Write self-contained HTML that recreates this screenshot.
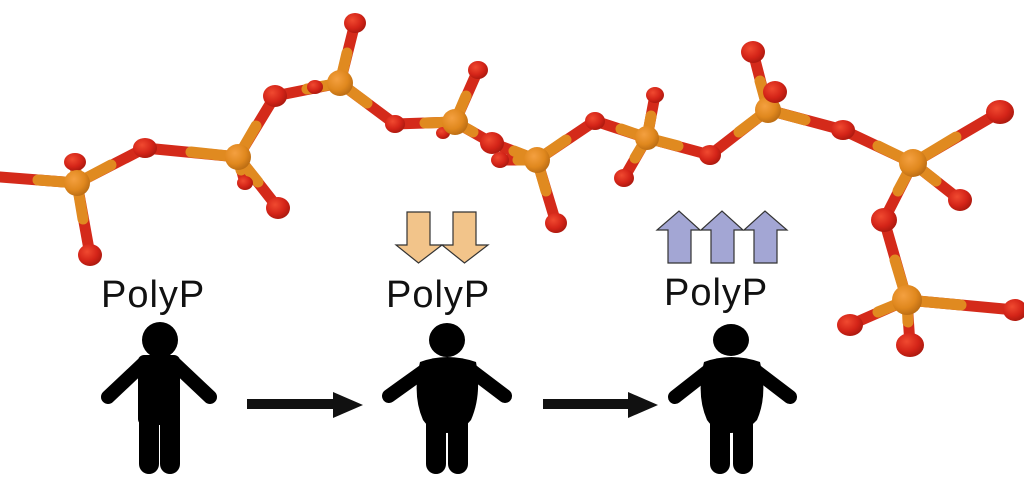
<!DOCTYPE html>
<html><head><meta charset="utf-8"><style>
html,body{margin:0;padding:0;background:#fff;width:1024px;height:478px;overflow:hidden}
svg{display:block}
text{font-family:"Liberation Sans",Arial,sans-serif;font-size:38px;letter-spacing:1px;fill:#111}
</style></head><body>
<svg width="1024" height="478" viewBox="0 0 1024 478" xmlns="http://www.w3.org/2000/svg">
<defs>
<radialGradient id="gr" cx="0.38" cy="0.35" r="0.7"><stop offset="0" stop-color="#f04a30"/><stop offset="0.6" stop-color="#d42418"/><stop offset="1" stop-color="#a8180e"/></radialGradient>
<radialGradient id="go" cx="0.38" cy="0.35" r="0.7"><stop offset="0" stop-color="#f4a040"/><stop offset="0.6" stop-color="#e0881e"/><stop offset="1" stop-color="#b86a12"/></radialGradient>
</defs>
<g stroke-linecap="round" stroke-width="11" fill="none">
<g stroke="#d42a1a">
<line x1="0" y1="177" x2="77" y2="183"/><line x1="77" y1="183" x2="75" y2="162"/><line x1="77" y1="183" x2="90" y2="255"/><line x1="77" y1="183" x2="145" y2="148"/>
<line x1="238" y1="157" x2="145" y2="148"/><line x1="238" y1="157" x2="275" y2="96"/><line x1="238" y1="157" x2="278" y2="208"/><line x1="238" y1="157" x2="245" y2="183"/>
<line x1="340" y1="83" x2="275" y2="96"/><line x1="340" y1="83" x2="355" y2="23"/><line x1="340" y1="83" x2="395" y2="124"/>
<line x1="455" y1="122" x2="395" y2="124"/><line x1="455" y1="122" x2="478" y2="70"/><line x1="455" y1="122" x2="443" y2="133"/><line x1="455" y1="122" x2="492" y2="143"/>
<line x1="537" y1="160" x2="492" y2="143"/><line x1="537" y1="160" x2="500" y2="160"/><line x1="537" y1="160" x2="556" y2="223"/><line x1="537" y1="160" x2="595" y2="121"/>
<line x1="647" y1="138" x2="595" y2="121"/><line x1="647" y1="138" x2="655" y2="95"/><line x1="647" y1="138" x2="624" y2="178"/><line x1="647" y1="138" x2="710" y2="155"/>
<line x1="768" y1="110" x2="710" y2="155"/><line x1="768" y1="110" x2="753" y2="52"/><line x1="768" y1="110" x2="843" y2="130"/>
<line x1="913" y1="163" x2="843" y2="130"/><line x1="913" y1="163" x2="1000" y2="112"/><line x1="913" y1="163" x2="960" y2="200"/><line x1="913" y1="163" x2="884" y2="220"/>
<line x1="907" y1="300" x2="884" y2="220"/><line x1="907" y1="300" x2="850" y2="325"/><line x1="907" y1="300" x2="1015" y2="310"/><line x1="907" y1="300" x2="910" y2="345"/>
</g>
<g stroke="#e08a20">
<line x1="77" y1="183" x2="38" y2="180"/><line x1="77" y1="183" x2="76" y2="172"/><line x1="77" y1="183" x2="83" y2="219"/><line x1="77" y1="183" x2="111" y2="165"/>
<line x1="238" y1="157" x2="191" y2="152"/><line x1="238" y1="157" x2="256" y2="126"/><line x1="238" y1="157" x2="258" y2="182"/><line x1="238" y1="157" x2="241" y2="170"/>
<line x1="340" y1="83" x2="307" y2="89"/><line x1="340" y1="83" x2="347" y2="53"/><line x1="340" y1="83" x2="367" y2="103"/>
<line x1="455" y1="122" x2="425" y2="123"/><line x1="455" y1="122" x2="466" y2="96"/><line x1="455" y1="122" x2="449" y2="127"/><line x1="455" y1="122" x2="473" y2="132"/>
<line x1="537" y1="160" x2="514" y2="151"/><line x1="537" y1="160" x2="518" y2="160"/><line x1="537" y1="160" x2="546" y2="191"/><line x1="537" y1="160" x2="566" y2="140"/>
<line x1="647" y1="138" x2="621" y2="129"/><line x1="647" y1="138" x2="651" y2="116"/><line x1="647" y1="138" x2="635" y2="158"/><line x1="647" y1="138" x2="678" y2="146"/>
<line x1="768" y1="110" x2="739" y2="132"/><line x1="768" y1="110" x2="760" y2="81"/><line x1="768" y1="110" x2="805" y2="120"/>
<line x1="913" y1="163" x2="878" y2="146"/><line x1="913" y1="163" x2="956" y2="137"/><line x1="913" y1="163" x2="936" y2="181"/><line x1="913" y1="163" x2="898" y2="191"/>
<line x1="907" y1="300" x2="895" y2="260"/><line x1="907" y1="300" x2="878" y2="312"/><line x1="907" y1="300" x2="961" y2="305"/><line x1="907" y1="300" x2="908" y2="322"/>
</g>
</g>
<g fill="url(#gr)">
<ellipse cx="75" cy="162" rx="11" ry="9"/><ellipse cx="90" cy="255" rx="12" ry="11"/><ellipse cx="145" cy="148" rx="12" ry="10"/>
<ellipse cx="275" cy="96" rx="12" ry="11"/><ellipse cx="315" cy="87" rx="8" ry="7"/><ellipse cx="278" cy="208" rx="12" ry="11"/><ellipse cx="245" cy="183" rx="8" ry="7"/>
<ellipse cx="355" cy="23" rx="11" ry="10"/><ellipse cx="395" cy="124" rx="10" ry="9"/>
<ellipse cx="478" cy="70" rx="10" ry="9"/><ellipse cx="443" cy="133" rx="7" ry="6"/><ellipse cx="492" cy="143" rx="12" ry="11"/><ellipse cx="500" cy="160" rx="9" ry="8"/>
<ellipse cx="556" cy="223" rx="11" ry="10"/><ellipse cx="595" cy="121" rx="10" ry="9"/>
<ellipse cx="655" cy="95" rx="9" ry="8"/><ellipse cx="624" cy="178" rx="10" ry="9"/><ellipse cx="710" cy="155" rx="11" ry="10"/>
<ellipse cx="753" cy="52" rx="12" ry="11"/><ellipse cx="843" cy="130" rx="12" ry="10"/>
<ellipse cx="1000" cy="112" rx="14" ry="12"/><ellipse cx="960" cy="200" rx="12" ry="11"/><ellipse cx="884" cy="220" rx="13" ry="12"/>
<ellipse cx="850" cy="325" rx="13" ry="11"/><ellipse cx="1015" cy="310" rx="12" ry="11"/><ellipse cx="910" cy="345" rx="14" ry="12"/>
</g>
<g fill="url(#go)">
<circle cx="77" cy="183" r="13"/><circle cx="238" cy="157" r="13"/><circle cx="340" cy="83" r="13"/><circle cx="455" cy="122" r="13"/>
<circle cx="537" cy="160" r="13"/><circle cx="647" cy="138" r="12"/><circle cx="768" cy="110" r="13"/><circle cx="913" cy="163" r="14"/><circle cx="907" cy="300" r="15"/>
</g>
<ellipse cx="775" cy="92" rx="12" ry="11" fill="url(#gr)"/>

<g fill="#f2c48a" stroke="#333" stroke-width="1.2">
<polygon points="407,212 430,212 430,245 442,245 418.5,263 396,245 407,245"/>
<polygon points="453,212 476,212 476,245 488,245 464.5,263 442,245 453,245"/>
</g>
<g fill="#a3a6d4" stroke="#333" stroke-width="1.2">
<polygon points="668,263 691,263 691,230 700,230 679,211 657,230 668,230"/>
<polygon points="711,263 734,263 734,230 743,230 722,211 701,230 711,230"/>
<polygon points="754,263 777,263 777,230 787,230 765,211 744,230 754,230"/>
</g>

<text x="101" y="307">PolyP</text>
<text x="386" y="307">PolyP</text>
<text x="664" y="305">PolyP</text>

<g fill="#111">
<rect x="247" y="399" width="88" height="10"/><polygon points="333,392 363,405 333,418"/>
<rect x="543" y="399" width="88" height="10"/><polygon points="628,392 658,405 628,418"/>
</g>

<g fill="#000" stroke="#000" stroke-linecap="round">
<circle cx="160" cy="340" r="18" stroke="none"/>
<rect x="138" y="355" width="42" height="70" rx="6" stroke="none"/>
<line x1="143" y1="364" x2="108" y2="397" stroke-width="14"/>
<line x1="175" y1="364" x2="210" y2="397" stroke-width="14"/>
<line x1="149" y1="415" x2="149" y2="464" stroke-width="20"/>
<line x1="170" y1="415" x2="170" y2="464" stroke-width="20"/>
</g>
<g fill="#000" stroke="#000" stroke-linecap="round">
<ellipse cx="447" cy="340" rx="18" ry="17" stroke="none"/>
<path d="M420 362 Q447 352 476 362 Q482 395 471 420 Q460 433 447 433 Q432 433 423 420 Q412 395 420 362Z" stroke="none"/>
<line x1="428" y1="368" x2="389" y2="396" stroke-width="14"/>
<line x1="468" y1="368" x2="505" y2="396" stroke-width="14"/>
<line x1="436" y1="420" x2="436" y2="464" stroke-width="20"/>
<line x1="458" y1="420" x2="458" y2="464" stroke-width="20"/>
</g>
<g fill="#000" stroke="#000" stroke-linecap="round">
<ellipse cx="731" cy="340" rx="18" ry="16" stroke="none"/>
<path d="M704 362 Q731 352 760 362 Q768 395 757 420 Q745 433 731 433 Q716 433 707 420 Q696 395 704 362Z" stroke="none"/>
<line x1="712" y1="368" x2="675" y2="397" stroke-width="14"/>
<line x1="752" y1="368" x2="790" y2="397" stroke-width="14"/>
<line x1="720" y1="420" x2="720" y2="464" stroke-width="20"/>
<line x1="743" y1="420" x2="743" y2="464" stroke-width="20"/>
</g>
</svg>
</body></html>
